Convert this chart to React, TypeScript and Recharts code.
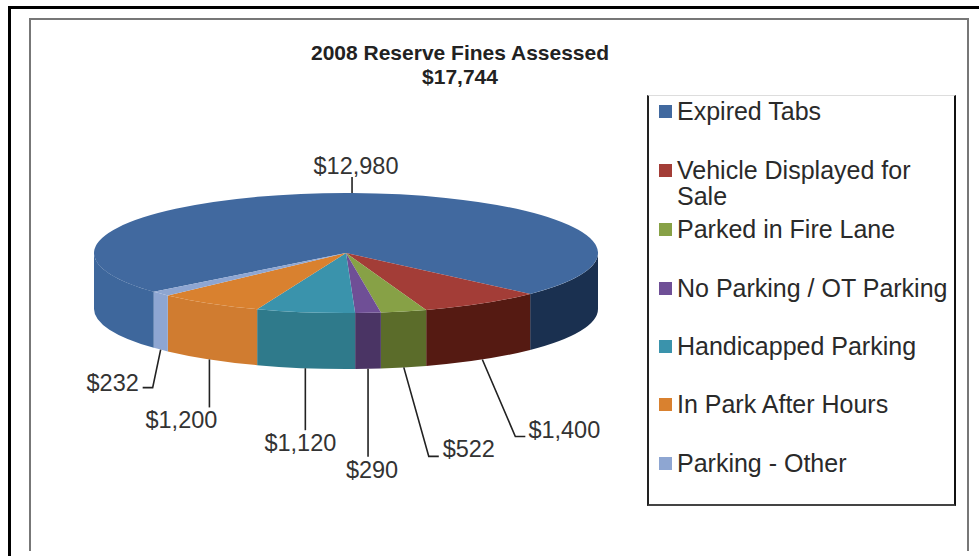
import React from 'react';
import { PieChart, Pie, Legend } from 'recharts';

const categories = [
  'Expired Tabs',
  'Vehicle Displayed for Sale',
  'Parked in Fire Lane',
  'No Parking / OT Parking',
  'Handicapped Parking',
  'In Park After Hours',
  'Parking - Other',
];
const fines = [12980, 1400, 522, 290, 1120, 1200, 232];
const topColors = ['#41699f', '#a33d37', '#87a146', '#6f4f96', '#3a93ac', '#d9812f', '#8ea6d2'];
// wall colour for the left part and the right part of each slice's front edge
const wallLeft = ['#3e679c', '#5c1f17', '#5a6e2c', '#4f3868', '#2f7a8b', '#d07c30', '#8ea6d2'];
const wallRight = ['#1a3050', '#551a12', '#5b6c2a', '#4a3464', '#33707f', '#c97a2c', '#8ea6d2'];

const pieData = categories.map((name, i) => ({ name, value: fines[i], fill: topColors[i] }));

const CX = 346;
const CY = 253;
const RX = 252;
const RY = 60;
const DEPTH = 56;
const START_ANGLE = 220.3;

const rad = (a: number) => (a * Math.PI) / 180;
const px = (a: number) => CX + RX * Math.cos(rad(a));
const py = (a: number) => CY - RY * Math.sin(rad(a));

// parts of a slice's rim that face the viewer
const frontRanges = (start: number, end: number) => {
  const out: [number, number][] = [];
  [[360, 180], [0, -180]].forEach(([hi, lo]) => {
    const a = Math.min(start, hi);
    const b = Math.max(end, lo);
    if (a > b) out.push([a, b]);
  });
  return out;
};

const Slice3D = (props: any) => {
  const { startAngle, endAngle, name } = props;
  const i = categories.indexOf(name);
  const large = startAngle - endAngle > 180 ? 1 : 0;
  const top = `M${CX},${CY} L${px(startAngle)},${py(startAngle)} A${RX},${RY} 0 ${large} 1 ${px(endAngle)},${py(endAngle)} Z`;
  return (
    <g>
      {frontRanges(startAngle, endAngle).map(([a, b], k) => {
        const d = `M${px(a)},${py(a)} A${RX},${RY} 0 0 1 ${px(b)},${py(b)} L${px(b)},${py(b) + DEPTH} A${RX},${RY} 0 0 0 ${px(a)},${py(a) + DEPTH} Z`;
        const isLeft = px((a + b) / 2) < CX;
        return <path key={k} d={d} fill={isLeft ? wallLeft[i] : wallRight[i]} stroke="none" />;
      })}
      <path d={top} fill={topColors[i]} stroke="none" />
    </g>
  );
};

// leader bends and text centre, as offsets from where the leader leaves the slice
const leaderBends: [number, number][][] = [
  [[0, -16]],
  [[33, 77], [43, 77]],
  [[25, 89], [35, 89]],
  [[0, 88]],
  [[0, 62]],
  [[0, 48]],
  [[-8, 38], [-18, 38]],
];
const textOffsets: [number, number][] = [
  [4, -27], [82, 71], [65, 82], [4, 101], [-5, 75], [-28, 61], [-48, 33],
];

const FineLabel = (props: any) => {
  const { midAngle, index, value } = props;
  const front = Math.sin(rad(midAngle)) < 0;
  const ax = px(midAngle);
  const ay = py(midAngle) + (front ? DEPTH : 0);
  const pts = [[ax, ay], ...leaderBends[index].map(([dx, dy]) => [ax + dx, ay + dy])];
  return (
    <g>
      <polyline points={pts.map((p) => p.join(',')).join(' ')} fill="none" stroke="#222" strokeWidth={1.6} />
      <text
        x={ax + textOffsets[index][0]}
        y={ay + textOffsets[index][1]}
        textAnchor="middle"
        dominantBaseline="central"
        fontFamily="Liberation Sans"
        fontSize={23.5}
        fill="#333"
      >
        {'$' + value.toLocaleString('en-US')}
      </text>
    </g>
  );
};

const legendRowTop = [-1, 58, 117, 176, 234, 292, 351];

const FineLegend = ({ payload }: any) => (
  <div style={{ position: 'relative', width: 305, height: 408, fontFamily: 'Liberation Sans', fontSize: 25, lineHeight: '26px', color: '#2a2a2a' }}>
    {categories.map((name, i) => {
      const entry = (payload || []).find((p: any) => p.value === name);
      return (
        <div key={name} style={{ position: 'absolute', left: 0, top: legendRowTop[i] + 3, width: 304 }}>
          <span style={{ position: 'absolute', left: 10, top: 7, width: 13, height: 13, background: entry ? entry.color : topColors[i] }} />
          <div style={{ marginLeft: 28, width: 272 }}>{name}</div>
        </div>
      );
    })}
  </div>
);

const frameLine = (left: number, top: number, width: number, height: number, background: string) => (
  <div style={{ position: 'absolute', left, top, width, height, background }} />
);

export default function App() {
  return (
    <div style={{ position: 'absolute', left: 0, top: 0, width: 979, height: 556, background: '#fff', overflow: 'hidden' }}>
      {frameLine(8, 6, 971, 3, '#000')}
      {frameLine(8, 6, 3, 550, '#000')}
      {frameLine(29, 18, 940, 2, '#777')}
      {frameLine(29, 18, 2, 533, '#777')}
      {frameLine(967, 18, 2, 533, '#777')}
      <div style={{ position: 'absolute', left: 260, top: 41, width: 400, textAlign: 'center', fontFamily: 'Liberation Sans', fontWeight: 'bold', fontSize: 21, lineHeight: '24px', color: '#222' }}>
        2008 Reserve Fines Assessed
        <br />
        $17,744
      </div>
      <div style={{ position: 'absolute', left: 0, top: 0 }}>
        <PieChart width={979} height={556} margin={{ top: 0, right: 0, bottom: 0, left: 0 }}>
          <Pie
            data={pieData}
            dataKey="value"
            nameKey="name"
            cx={CX}
            cy={CY}
            innerRadius={0}
            outerRadius={RX}
            startAngle={START_ANGLE}
            endAngle={START_ANGLE - 360}
            paddingAngle={0}
            stroke="none"
            shape={Slice3D}
            label={FineLabel}
            labelLine={false}
            isAnimationActive={false}
          />
          <Legend
            layout="vertical"
            content={<FineLegend />}
            wrapperStyle={{
              position: 'absolute',
              left: 647,
              top: 95,
              bottom: 'auto',
              width: 309,
              height: 411,
              boxSizing: 'border-box',
              borderLeft: '2px solid #222',
              borderRight: '2px solid #111',
              borderBottom: '2px solid #444',
              borderTop: '1px solid #ddd',
            }}
          />
        </PieChart>
      </div>
    </div>
  );
}
